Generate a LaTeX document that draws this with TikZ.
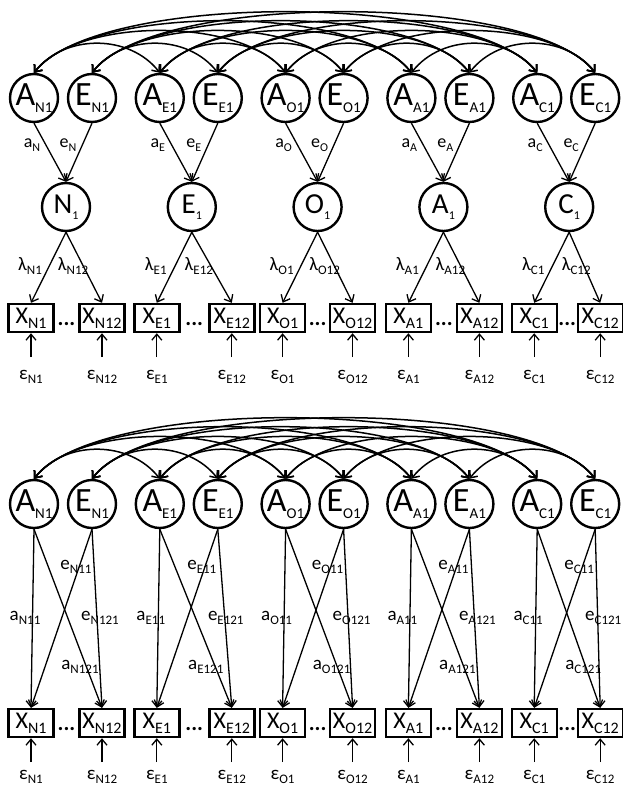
\documentclass[tikz,border=0pt]{standalone}
\usepackage{fontspec}
\setmainfont{Carlito}
\usetikzlibrary{arrows.meta,calc}
% lowered subscript in a given size
\newcommand\subsc[2]{\raisebox{-0.2em}{\fontsize{#1}{#1}\selectfont #2}}
\tikzset{
  latent/.style={circle,draw,line width=2.4pt,minimum size=48pt,inner sep=0pt},
  obs/.style={draw,line width=2.4pt,minimum width=45pt,minimum height=28pt,inner sep=0pt},
  pth/.style={line width=1.3pt,-{Straight Barb[length=6pt,width=10pt]}},
  cov/.style={line width=1.5pt,{Straight Barb[length=6pt,width=10pt]}-{Straight Barb[length=6pt,width=10pt]}},
  lbl/.style={inner sep=0pt,font=\fontsize{18}{18}\selectfont},
  lbig/.style={inner sep=0pt,font=\fontsize{19}{19}\selectfont},
  dotsnode/.style={inner sep=0pt,anchor=base,font=\fontsize{22}{22}\selectfont\bfseries},
}
\begin{document}
\begin{tikzpicture}[x=1pt,y=-1pt]
\useasboundingbox (0,0) rectangle (623,787);
% ---------- upper model: common pathway ----------
\foreach \g [count=\i from 0] in {N,E,O,A,C} {
  \pgfmathsetmacro\gx{34+125.8*\i}
  \pgfmathsetmacro\xo{{68,72,67,68,63}[\i]}
  \node[latent] (tA\g) at (\gx,98) {\fontsize{34}{34}\selectfont A\subsc{15}{\g1}};
  \node[latent] (tE\g) at (\gx+58,98) {\fontsize{34}{34}\selectfont E\subsc{15}{\g1}};
  \node[latent] (tL\g) at (\gx+32,207) {\fontsize{29}{29}\selectfont \g\subsc{12}{1}};
  \node[obs] (tX\g1) at (\gx-3,318) {\fontsize{24}{24}\selectfont X\subsc{16}{\g1}};
  \node[obs] (tX\g2) at (\gx+\xo,318) {\fontsize{24}{24}\selectfont X\subsc{16}{\g12}};
  \node[dotsnode] (tD\g) at ($(tX\g1.east)!0.5!(tX\g2.west)+(0,7)$) {...};
  \draw[pth] (tA\g.south) -- (tL\g.north);
  \draw[pth] (tE\g.south) -- (tL\g.north);
  \draw[pth] (tL\g.south) -- (tX\g1.north);
  \draw[pth] (tL\g.south) -- (tX\g2.north);
  \node[lbl] (ta\g) at (\gx-2,145) {a\subsc{12}{\g}};
  \node[lbl] (te\g) at (\gx+34,145) {e\subsc{12}{\g}};
  \node[lbig] (tl\g1) at (\gx-4,266) {λ\subsc{13}{\g1}};
  \node[lbig] (tl\g2) at (\gx+39,266) {λ\subsc{13}{\g12}};
  \coordinate (tu\g1) at (\gx-3,357);
  \coordinate (tu\g2) at (\gx+\xo,357);
  \draw[pth] (tu\g1) -- (tX\g1.south);
  \draw[pth] (tu\g2) -- (tX\g2.south);
  \node[lbig] (tr\g1) at (\gx-3,377) {ε\subsc{13}{\g1}};
  \node[lbig] (tr\g2) at (\gx+\xo,377) {ε\subsc{13}{\g12}};
}
% ---------- lower model: independent pathway ----------
\foreach \g [count=\i from 0] in {N,E,O,A,C} {
  \pgfmathsetmacro\gx{34+125.8*\i}
  \pgfmathsetmacro\xo{{68,72,67,68,63}[\i]}
  \node[latent] (bA\g) at (\gx,504) {\fontsize{34}{34}\selectfont A\subsc{15}{\g1}};
  \node[latent] (bE\g) at (\gx+58,504) {\fontsize{34}{34}\selectfont E\subsc{15}{\g1}};
  \node[obs] (bX\g1) at (\gx-3,723) {\fontsize{24}{24}\selectfont X\subsc{16}{\g1}};
  \node[obs] (bX\g2) at (\gx+\xo,723) {\fontsize{24}{24}\selectfont X\subsc{16}{\g12}};
  \node[dotsnode] (bD\g) at ($(bX\g1.east)!0.5!(bX\g2.west)+(0,7)$) {...};
  \draw[pth] (bA\g.south) -- (bX\g1.north);
  \draw[pth] (bA\g.south) -- (bX\g2.north);
  \draw[pth] (bE\g.south) -- (bX\g1.north);
  \draw[pth] (bE\g.south) -- (bX\g2.north);
  \node[lbig] (be\g1) at (\gx+42,567) {e\subsc{13}{\g11}};
  \node[lbig] (ba\g1) at (\gx-9,618) {a\subsc{13}{\g11}};
  \node[lbig] (be\g2) at (\gx+66,618) {e\subsc{13}{\g121}};
  \node[lbig] (ba\g2) at (\gx+46,667) {a\subsc{13}{\g121}};
  \coordinate (bu\g1) at (\gx-3,762);
  \coordinate (bu\g2) at (\gx+\xo,762);
  \draw[pth] (bu\g1) -- (bX\g1.south);
  \draw[pth] (bu\g2) -- (bX\g2.south);
  \node[lbig] (br\g1) at (\gx-3,777) {ε\subsc{13}{\g1}};
  \node[lbig] (br\g2) at (\gx+\xo,777) {ε\subsc{13}{\g12}};
}
% ---------- correlations among the A and among the E factors ----------
\foreach \p/\q/\s in {N/E/1,N/O/2,N/A/3,N/C/4,E/O/1,E/A/2,E/C/3,O/A/1,O/C/2,A/C/1} {
  \pgfmathsetmacro\dy{{0,39,56,69,81}[\s]}
  \foreach \m in {t,b} {
    \draw[cov] (\m A\p.north) .. controls +(0.78*\dy,-\dy) and +(-0.78*\dy,-\dy) .. (\m A\q.north);
    \draw[cov] (\m E\p.north) .. controls +(0.78*\dy,-\dy) and +(-0.78*\dy,-\dy) .. (\m E\q.north);
  }
}
\end{tikzpicture}
\end{document}
